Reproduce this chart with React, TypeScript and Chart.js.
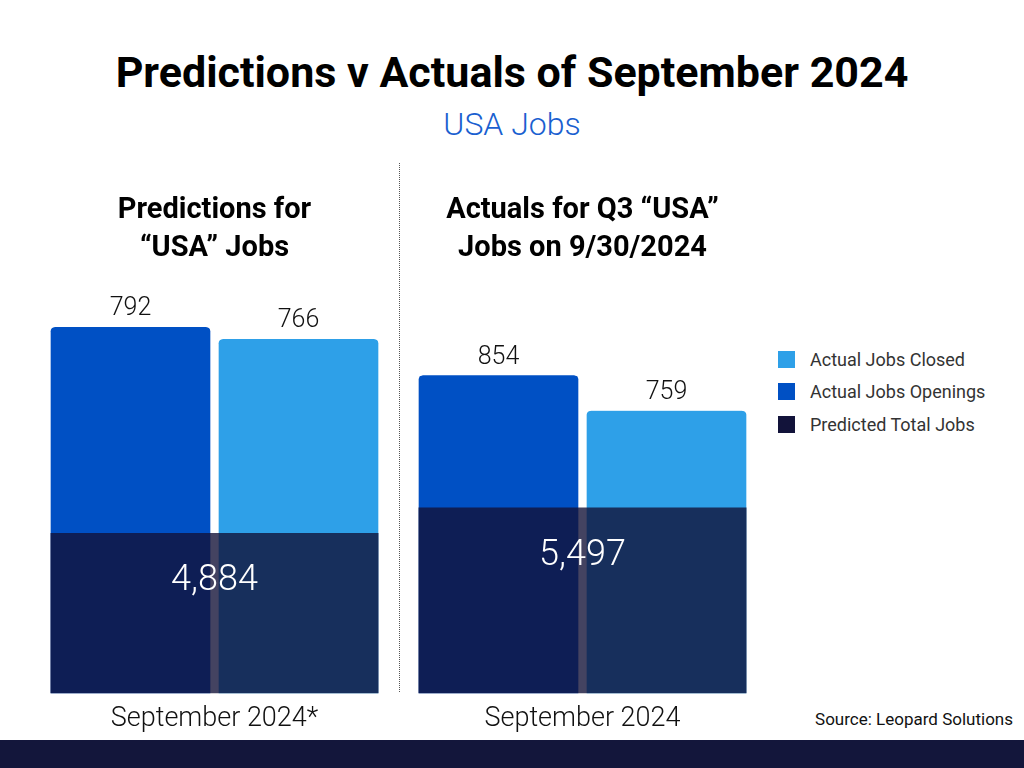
import React, { useEffect, useRef } from "react";
import { Chart, registerables } from "chart.js";

Chart.register(...registerables);

// ---------- data ----------
const MAIN_TITLE = "Predictions v Actuals of September 2024";
const SUBTITLE = "USA Jobs";
const SOURCE = "Source: Leopard Solutions";

const SERIES_NAMES = ["Actual Jobs Openings", "Actual Jobs Closed", "Predicted Total Jobs"];
const LEGEND_ORDER = [1, 0, 2];

const LEFT_CATEGORIES = ["September 2024*"];
const LEFT_TITLE = ["Predictions for", "\u201CUSA\u201D Jobs"];
const LEFT_OPENINGS = [792];
const LEFT_CLOSED = [766];
const LEFT_TOTAL = [4884];

const RIGHT_CATEGORIES = ["September 2024"];
const RIGHT_TITLE = ["Actuals for Q3 \u201CUSA\u201D", "Jobs on 9/30/2024"];
const RIGHT_OPENINGS = [854];
const RIGHT_CLOSED = [759];
const RIGHT_TOTAL = [5497];

// hidden axis ranges (each panel has its own scale)
const LEFT_BAR_MAX = 898;
const LEFT_TOTAL_MAX = 12637;
const RIGHT_BAR_MAX = 1115;
const RIGHT_TOTAL_MAX = 12282;

// ---------- styles ----------
const COLOR_OPEN = "#0050c4";
const COLOR_CLOSED = "#2ea0e8";
const COLOR_TOTAL = "rgba(18,17,55,0.79)";
const COLOR_TOTAL_SOLID = "#12133a";
const SERIES_COLORS = [COLOR_OPEN, COLOR_CLOSED, COLOR_TOTAL_SOLID];
const FONT = "Roboto";

const valueLabels = {
  id: "valueLabels",
  afterDatasetsDraw(chart: any) {
    const ctx = chart.ctx;
    chart.data.datasets.forEach((ds: any, i: number) => {
      const meta = chart.getDatasetMeta(i);
      meta.data.forEach((bar: any, j: number) => {
        const v = ds.data[j];
        const text = Number(v).toLocaleString("en-US");
        ctx.save();
        ctx.textAlign = "center";
        ctx.textBaseline = "middle";
        if (ds.isTotal) {
          ctx.font = `300 36px ${FONT}`;
          ctx.fillStyle = "#ffffff";
          ctx.fillText(text, bar.x, bar.y + 48);
        } else {
          ctx.font = `300 25px ${FONT}`;
          ctx.fillStyle = "#111111";
          ctx.fillText(text, bar.x, bar.y - 18);
        }
        ctx.restore();
      });
    });
  },
};

function makeConfig(
  categories: string[],
  title: string[],
  openings: number[],
  closed: number[],
  total: number[],
  barMax: number,
  totalMax: number,
  padLeft: number,
  padRight: number
): any {
  const W = 336;
  const barStyle = {
    xAxisID: "x",
    yAxisID: "y",
    order: 1,
    barThickness: W / 2,
    borderWidth: { left: 4.5, right: 4.5, top: 0, bottom: 0 },
    borderColor: "rgba(0,0,0,0)",
    borderRadius: { topLeft: 9, topRight: 9, bottomLeft: 0, bottomRight: 0 },
    borderSkipped: false,
  };
  return {
    type: "bar",
    data: {
      labels: categories,
      datasets: [
        {
          label: SERIES_NAMES[2],
          data: total,
          isTotal: true,
          backgroundColor: COLOR_TOTAL,
          xAxisID: "x2",
          yAxisID: "y2",
          order: 0,
          grouped: false,
          categoryPercentage: 1,
          barPercentage: 328 / W,
          borderWidth: 0,
        },
        { label: SERIES_NAMES[0], data: openings, backgroundColor: COLOR_OPEN, ...barStyle },
        { label: SERIES_NAMES[1], data: closed, backgroundColor: COLOR_CLOSED, ...barStyle },
      ],
    },
    options: {
      animation: false,
      responsive: false,
      maintainAspectRatio: false,
      layout: { padding: { left: padLeft, right: padRight, top: 0, bottom: 0 } },
      plugins: {
        legend: { display: false },
        tooltip: { enabled: false },
        title: {
          display: true,
          text: title,
          color: "#000000",
          font: { family: FONT, weight: "bold", size: 29, lineHeight: 1.31 },
          padding: { top: 22, bottom: 10 },
        },
      },
      scales: {
        x: {
          type: "category",
          offset: true,
          grid: { display: false, drawTicks: false },
          border: { display: false },
          ticks: { color: "#111111", font: { family: FONT, size: 27, weight: "300" }, padding: 9 },
        },
        x2: {
          type: "category",
          offset: true,
          display: false,
          grid: { display: false },
        },
        y: { display: false, min: 0, max: barMax },
        y2: { display: false, min: 0, max: totalMax },
      },
    },
    plugins: [valueLabels],
  };
}

function Panel(props: { left: number; width: number; config: any }) {
  const ref = useRef<HTMLCanvasElement | null>(null);
  useEffect(() => {
    if (!ref.current) return;
    const chart = new Chart(ref.current, props.config);
    return () => chart.destroy();
  }, []);
  return (
    <canvas
      ref={ref}
      width={props.width}
      height={574}
      style={{ position: "absolute", left: props.left, top: 170, width: props.width, height: 574 }}
    />
  );
}

export default function App() {
  const leftCfg = makeConfig(
    LEFT_CATEGORIES, LEFT_TITLE, LEFT_OPENINGS, LEFT_CLOSED, LEFT_TOTAL,
    LEFT_BAR_MAX, LEFT_TOTAL_MAX, 46.5, 17.5
  );
  const rightCfg = makeConfig(
    RIGHT_CATEGORIES, RIGHT_TITLE, RIGHT_OPENINGS, RIGHT_CLOSED, RIGHT_TOTAL,
    RIGHT_BAR_MAX, RIGHT_TOTAL_MAX, 14.5, 9.5
  );
  return (
    <div
      style={{
        position: "absolute",
        left: 0,
        top: 0,
        width: 1024,
        height: 768,
        background: "#ffffff",
        overflow: "hidden",
        fontFamily: FONT,
      }}
    >
      <div
        style={{
          position: "absolute", left: 0, width: 1024, top: 48, height: 48, lineHeight: "48px",
          textAlign: "center", fontSize: 43, fontWeight: 700, color: "#000",
        }}
      >
        {MAIN_TITLE}
      </div>
      <div
        style={{
          position: "absolute", left: 0, width: 1024, top: 106, height: 36, lineHeight: "36px",
          textAlign: "center", fontSize: 32, fontWeight: 300, color: "#1a5fd0",
        }}
      >
        {SUBTITLE}
      </div>
      <div
        style={{
          position: "absolute", left: 399, top: 163, height: 529, width: 0,
          borderLeft: "1px dotted #555",
        }}
      />
      <Panel left={0} width={400} config={leftCfg} />
      <Panel left={400} width={360} config={rightCfg} />
      {LEGEND_ORDER.map((si, k) => (
        <div
          key={si}
          style={{
            position: "absolute", left: 778, top: 347 + k * 32.5, height: 24,
            display: "flex", alignItems: "center",
          }}
        >
          <div style={{ width: 17, height: 17, background: SERIES_COLORS[si], marginRight: 15 }} />
          <span style={{ fontSize: 18, color: "#333", whiteSpace: "nowrap" }}>{SERIES_NAMES[si]}</span>
        </div>
      ))}
      <div
        style={{
          position: "absolute", right: 11, top: 708, height: 22, lineHeight: "22px",
          fontSize: 17, color: "#111", whiteSpace: "nowrap",
        }}
      >
        {SOURCE}
      </div>
      <div
        style={{
          position: "absolute", left: 0, top: 740, width: 1024, height: 28,
          background: "#13163b",
        }}
      />
    </div>
  );
}
